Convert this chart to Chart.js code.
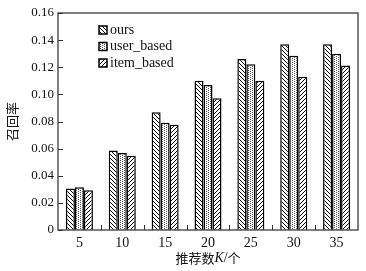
<!DOCTYPE html>
<html>
<head>
<meta charset="utf-8">
<script src="https://cdn.jsdelivr.net/npm/chart.js@4/dist/chart.umd.min.js"></script>
<style>
  html, body { margin: 0; padding: 0; background: #fff; }
  #wrap { width: 366px; height: 271px; }
</style>
</head>
<body>
<div id="wrap"><canvas id="recallChart" width="366" height="271"></canvas></div>
<script>
// chart data
const categories = ['5', '10', '15', '20', '25', '30', '35'];
const oursValues = [0.0306, 0.0587, 0.0869, 0.1100, 0.1260, 0.1370, 0.1370];
const userBasedValues = [0.0316, 0.0568, 0.0790, 0.1070, 0.1223, 0.1284, 0.1300];
const itemBasedValues = [0.0294, 0.0548, 0.0776, 0.0972, 0.1100, 0.1130, 0.1213];
const seriesNames = ['ours', 'user_based', 'item_based'];
const yTicks = [0, 0.02, 0.04, 0.06, 0.08, 0.10, 0.12, 0.14, 0.16];

const serif = '"Liberation Serif", "DejaVu Serif", serif';
const cjk = '"Noto Sans CJK SC", sans-serif';

// small tile patterns for the bar fills
function makePattern(kind) {
  const w = 4;
  const h = kind === 'dots' ? 2 : 4;
  const c = document.createElement('canvas');
  c.width = w;
  c.height = h;
  const g = c.getContext('2d');
  g.fillStyle = '#fff';
  g.fillRect(0, 0, w, h);
  g.fillStyle = '#000';
  if (kind === 'back') {
    for (let i = 0; i < w; i++) g.fillRect(i, i, 1, 1);
  } else if (kind === 'fwd') {
    for (let i = 0; i < w; i++) g.fillRect(i, w - 1 - i, 1, 1);
  } else {
    // staggered stipple
    g.fillStyle = 'rgba(0,0,0,0.7)';
    g.fillRect(0, 0, 1, 1);
    g.fillRect(2, 1, 1, 1);
  }
  return g.createPattern(c, 'repeat');
}

const fills = [makePattern('back'), makePattern('dots'), makePattern('fwd')];

// frame, inward ticks, legend inside the plot and the x title
const framePlugin = {
  id: 'framePlugin',
  afterDraw(chart) {
    const ctx = chart.ctx;
    const a = chart.chartArea;
    const ys = chart.scales.y;
    const xs = chart.scales.x;
    ctx.save();
    ctx.strokeStyle = '#555';
    ctx.lineWidth = 1.5;
    ctx.strokeRect(a.left, a.top, a.right - a.left, a.bottom - a.top);

    ctx.lineWidth = 1;
    ctx.strokeStyle = '#333';
    for (const v of yTicks) {
      const y = Math.round(ys.getPixelForValue(v)) + 0.5;
      ctx.beginPath();
      ctx.moveTo(a.left, y);
      ctx.lineTo(a.left + 5, y);
      ctx.stroke();
    }
    for (let i = 1; i < categories.length; i++) {
      const x = Math.round((xs.getPixelForValue(i - 1) + xs.getPixelForValue(i)) / 2) + 0.5;
      ctx.beginPath();
      ctx.moveTo(x, a.bottom);
      ctx.lineTo(x, a.bottom - 5);
      ctx.stroke();
    }

    // legend
    const lx = a.left + 41;
    let ly = a.top + 17;
    ctx.font = '14px ' + serif;
    ctx.textBaseline = 'middle';
    chart.data.datasets.forEach(function(ds) {
      ctx.fillStyle = ds.backgroundColor;
      ctx.fillRect(lx, ly - 4, 8, 8);
      ctx.strokeStyle = '#000';
      ctx.lineWidth = 1.5;
      ctx.strokeRect(lx, ly - 4, 8, 8);
      ctx.fillStyle = '#111';
      ctx.fillText(ds.label, lx + 11, ly);
      ly += 16.5;
    });

    // x title with italic K
    const parts = [
      { t: '推荐数', f: '13px ' + cjk },
      { t: 'K', f: 'italic 14px ' + serif },
      { t: '/', f: '14px ' + serif },
      { t: '个', f: '13px ' + cjk }
    ];
    let total = 0;
    parts.forEach(function(p) { ctx.font = p.f; p.w = ctx.measureText(p.t).width; total += p.w; });
    let x = (a.left + a.right) / 2 - total / 2;
    ctx.fillStyle = '#111';
    ctx.textAlign = 'left';
    parts.forEach(function(p) { ctx.font = p.f; ctx.fillText(p.t, x, 258); x += p.w; });
    ctx.restore();
  }
};

const ctx = document.getElementById('recallChart').getContext('2d');
const recallChart = new Chart(ctx, {
  type: 'bar',
  data: {
    labels: categories,
    datasets: [oursValues, userBasedValues, itemBasedValues].map(function(vals, i) {
      return {
        label: seriesNames[i],
        data: vals,
        backgroundColor: fills[i],
        borderColor: '#000',
        borderWidth: 1.5,
        categoryPercentage: 0.63,
        barPercentage: 1.0
      };
    })
  },
  options: {
    responsive: false,
    animation: false,
    layout: { padding: { top: 13, right: 8, left: 0, bottom: 0 } },
    plugins: {
      legend: { display: false },
      tooltip: { enabled: false }
    },
    scales: {
      x: {
        grid: { display: false, drawTicks: false },
        border: { display: false },
        ticks: { color: '#111', font: { family: serif, size: 14 }, padding: 5 },
        afterFit(scale) { scale.height = 41; }
      },
      y: {
        min: 0,
        max: 0.16,
        grid: { display: false, drawTicks: false },
        border: { display: false },
        ticks: {
          stepSize: 0.02,
          color: '#111',
          font: { family: serif, size: 13 },
          padding: 4,
          callback: function(v) { return v === 0 ? '0' : v.toFixed(2); }
        },
        title: {
          display: true,
          text: '召回率',
          color: '#111',
          font: { family: cjk, size: 13 },
          padding: { top: 4, bottom: 0 }
        },
        afterFit(scale) { scale.width = 58; }
      }
    }
  },
  plugins: [framePlugin]
});
</script>
</body>
</html>
